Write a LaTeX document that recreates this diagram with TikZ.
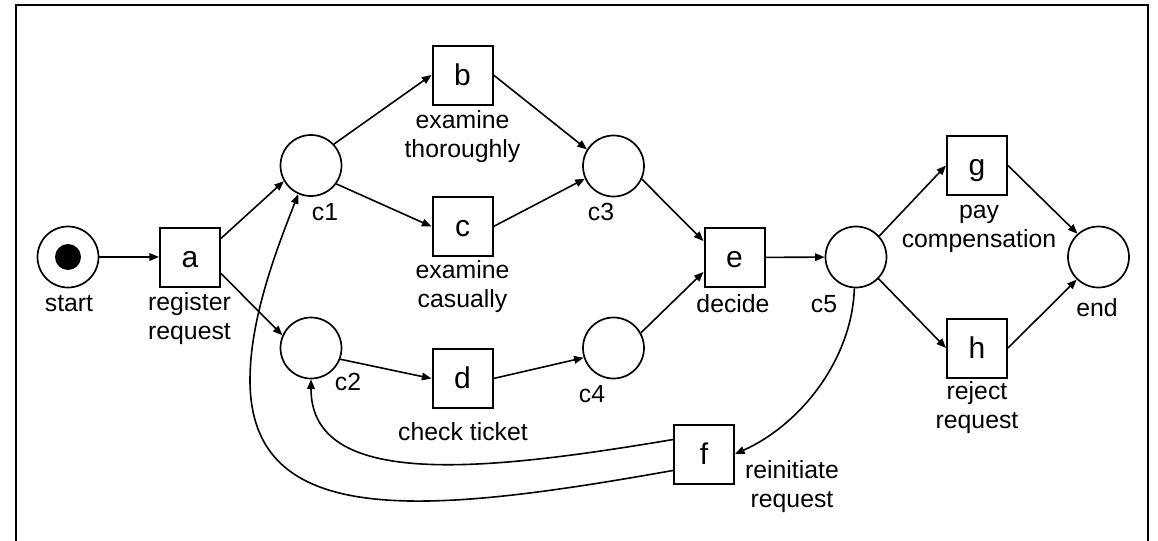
\documentclass[tikz,border=0pt]{standalone}
\usepackage{fontspec}
\setmainfont{Liberation Sans}
\usetikzlibrary{arrows.meta}
\begin{document}
\begin{tikzpicture}[x=0.5pt,y=-0.5pt,
  place/.style={circle,draw,line width=0.85pt,minimum size=30.5pt,inner sep=0pt},
  trans/.style={rectangle,draw,line width=1pt,minimum width=30pt,minimum height=29.5pt,inner sep=0pt,
    font=\fontsize{15}{18}\selectfont,text height=10pt,text depth=0pt},
  token/.style={circle,fill,minimum size=13pt,inner sep=0pt},
  lbl/.style={font=\fontsize{12.4}{14.25}\selectfont,align=center,inner sep=0pt,anchor=base},
  arc/.style={-{Triangle[length=4.8pt,width=3.8pt]},line width=0.8pt},
  frame/.style={line width=1pt}
]
\useasboundingbox (0,0) rectangle (1158,541);
\draw[frame] (16,541) -- (16,5) -- (1148,5) -- (1148,541);

% places
\node[place] (pstart) at (68,257) {};
\node[token] (tok) at (pstart.center) {};
\node[place] (c1) at (311,165.5) {};
\node[place] (c2) at (311,348) {};
\node[place] (c3) at (613.5,166) {};
\node[place] (c4) at (613.5,348) {};
\node[place] (c5) at (856,257) {};
\node[place] (pend) at (1098.5,257) {};

% transitions
\node[trans] (a) at (190,257) {a};
\node[trans] (b) at (462.5,75) {b};
\node[trans] (c) at (462.5,226.5) {c};
\node[trans] (d) at (462.5,378.5) {d};
\node[trans] (e) at (734.5,257.5) {e};
\node[trans] (f) at (704,454) {f};
\node[trans] (g) at (977,165.5) {g};
\node[trans] (h) at (977,348) {h};

% labels (base = baseline of the last line)
\node[lbl] (lstart) at (69,311) {start};
\node[lbl] (la) at (189.5,339) {register\\request};
\node[lbl] (lb) at (462.5,157) {examine\\thoroughly};
\node[lbl] (lc) at (462.5,307) {examine\\casually};
\node[lbl] (ld) at (463,440) {check ticket};
\node[lbl] (le) at (733,312) {decide};
\node[lbl] (lf) at (792,507) {reinitiate\\request};
\node[lbl] (lg) at (979,247) {pay\\compensation};
\node[lbl] (lh) at (977,428) {reject\\request};
\node[lbl] (lc1) at (325,220) {c1};
\node[lbl] (lc2) at (348,390) {c2};
\node[lbl] (lc3) at (601,220) {c3};
\node[lbl] (lc4) at (592,402) {c4};
\node[lbl] (lc5) at (824,312) {c5};
\node[lbl] (lend) at (1097,316) {end};

% arcs
\draw[arc] (pstart) -- (a);
\draw[arc] (a.31) -- (c1.210);
\draw[arc] (a.-28) -- (c2.156);
\draw[arc] (c1.43) -- (b.west);
\draw[arc] (c1.-36) -- (c.west);
\draw[arc] (c2.-21) -- (d.west);
\draw[arc] (b.east) -- (c3.148);
\draw[arc] (c.east) -- (c3.204);
\draw[arc] (d.east) -- (c4.198);
\draw[arc] (c3.-25) -- (e.152);
\draw[arc] (c4.29) -- (e.205);
\draw[arc] (e) -- (c5);
\draw[arc] (c5.42) -- (g.west);
\draw[arc] (c5.-44) -- (h.west);
\draw[arc] (g.east) -- (pend.132);
\draw[arc] (h.east) -- (pend.226);
\draw[arc] (c5.-93) .. controls (852,360) and (800,425) .. (f.east);
\draw[arc] (f.155) .. controls (480,472) and (311,489) .. (c2.south);
\draw[arc] (f.208) .. controls (423,515) and (250,530) .. (250,380)
                  .. controls (250,320) and (275,253) .. (c1.246);
\end{tikzpicture}
\end{document}
